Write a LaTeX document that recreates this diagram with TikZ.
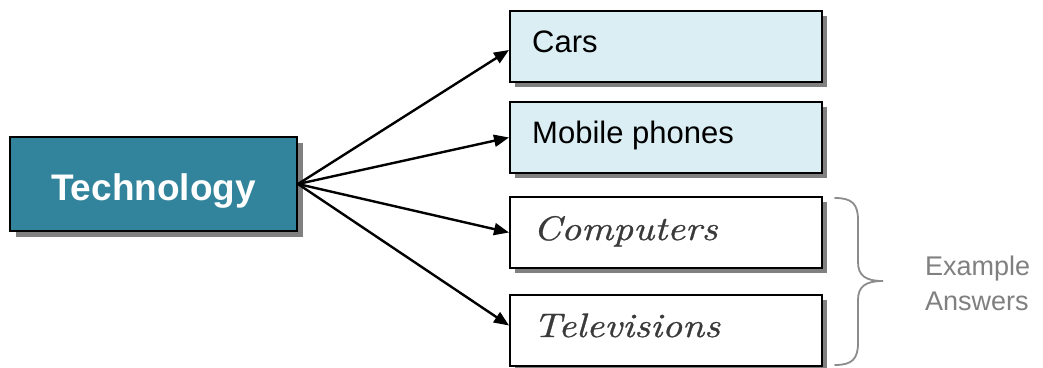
\documentclass[tikz,border=0pt]{standalone}
\usepackage{fontspec}
\newfontfamily\arial{Liberation Sans}
\newfontfamily\handfont{lmroman10-italic}[Extension=.otf, FakeStretch=1.15, FakeBold=0.8]
\usetikzlibrary{shadows,arrows.meta}
\definecolor{techteal}{HTML}{31849B}
\definecolor{lightaqua}{HTML}{DAEEF3}
\definecolor{shadegray}{HTML}{808080}
\definecolor{bracegray}{HTML}{8C8C8C}
\definecolor{scriptgray}{HTML}{3A3A3A}
\tikzset{
  shadowed/.style={drop shadow={shadow xshift=#1, shadow yshift=-#1, fill=shadegray, opacity=1}},
  itembox/.style={draw=black, line width=2pt, minimum width=312pt, minimum height=71pt, inner sep=0pt, shadowed=5pt},
  techbox/.style={draw=black, line width=2pt, fill=techteal, minimum width=287pt, minimum height=94pt, inner sep=0pt, shadowed=6pt},
  plainlabel/.style={anchor=base west, inner sep=0pt, font=\arial\fontsize{31}{36}\selectfont},
  scriptlabel/.style={anchor=base west, inner sep=0pt, text=scriptgray, font=\handfont\fontsize{34}{40}\selectfont},
  notelabel/.style={anchor=base west, inner sep=0pt, text=shadegray, font=\arial\fontsize{27}{32}\selectfont},
  link/.style={line width=2.4pt, -{Triangle[length=15pt,width=12pt]}},
  bracepath/.style={draw=bracegray, line width=1.8pt, line cap=round}
}
\begin{document}
\begin{tikzpicture}[x=1pt,y=-1pt]
  \fill[white] (0,0) rectangle (1043,367);
  \useasboundingbox (0,0) rectangle (1043,367);

  \node[techbox] (tech) at (153.5,184) {};
  \node[anchor=base, inner sep=0pt, text=white, font=\arial\bfseries\fontsize{37}{40}\selectfont] (techt) at (153.5,200) {Technology};

  \node[itembox, fill=lightaqua] (cars) at (666,46.5) {};
  \node[itembox, fill=lightaqua] (mobile) at (666,137.5) {};
  \node[itembox, fill=white] (comp) at (666,232.5) {};
  \node[itembox, fill=white] (tv) at (666,330.5) {};

  \node[plainlabel] (carst) at (532,52) {Cars};
  \node[plainlabel] (mobilet) at (532,143) {Mobile phones};
  \node[scriptlabel] (compt) at (533,240) {Computers};
  \node[scriptlabel] (tvt) at (533,337) {Televisions};

  \draw[link] (tech.east) -- ([yshift=-3.5pt]cars.west);
  \draw[link] (tech.east) -- (mobile.west);
  \draw[link] (tech.east) -- (comp.west);
  \draw[link] (tech.east) -- ([yshift=5pt]tv.west);

  \coordinate (btop) at (835,198);
  \coordinate (btip) at (883,281);
  \coordinate (bbot) at (835,365);
  \draw[bracepath] (btop) .. controls (852,198) and (858,204) .. (858,220)
    -- (858,262) .. controls (858,276) and (866,281) .. (btip)
    .. controls (866,281) and (858,286) .. (858,300)
    -- (858,343) .. controls (858,359) and (852,365) .. (bbot);

  \node[notelabel] (ex1) at (925,275) {Example};
  \node[notelabel] (ex2) at (925,310) {Answers};
\end{tikzpicture}
\end{document}
